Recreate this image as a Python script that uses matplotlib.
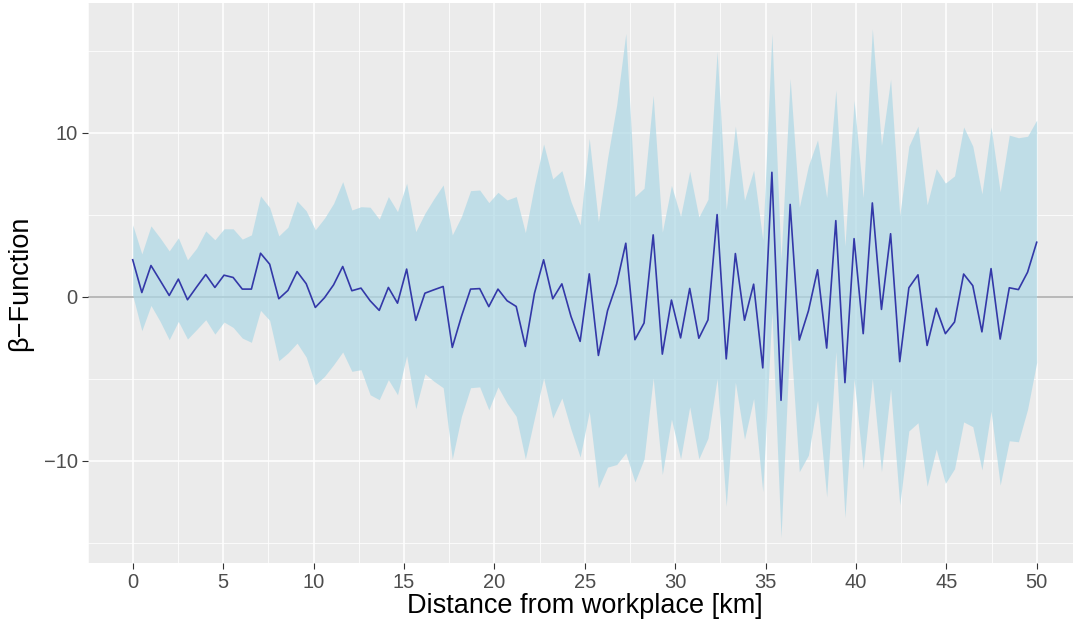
import numpy as np
import matplotlib
matplotlib.use('Agg')
import matplotlib.pyplot as plt

plt.rcParams['font.family'] = ['Liberation Sans', 'DejaVu Sans']

# distance grid: 100 points from 0 to 50 km
dist = np.linspace(0, 50, 100)

beta = [2.26, 0.26, 1.91, 1.0, 0.08, 1.08, -0.18, 0.6, 1.36, 0.57,
        1.32, 1.18, 0.47, 0.47, 2.66, 1.99, -0.12, 0.39, 1.54, 0.8,
        -0.65, -0.06, 0.73, 1.85, 0.37, 0.53, -0.24, -0.83, 0.57, -0.39,
        1.69, -1.44, 0.22, 0.43, 0.63, -3.09, -1.2, 0.47, 0.5, -0.6,
        0.47, -0.24, -0.59, -3.03, 0.22, 2.26, -0.12, 0.79, -1.2, -2.72,
        1.4, -3.58, -0.85, 0.79, 3.27, -2.62, -1.6, 3.78, -3.5, -0.2,
        -2.51, 0.51, -2.53, -1.41, 5.02, -3.79, 2.64, -1.43, 0.77, -4.34,
        7.6, -6.32, 5.64, -2.64, -0.86, 1.65, -3.13, 4.65, -5.24, 3.55,
        -2.25, 5.73, -0.77, 3.85, -3.96, 0.55, 1.34, -2.97, -0.7, -2.25,
        -1.54, 1.39, 0.68, -2.14, 1.72, -2.58, 0.55, 0.44, 1.5, 3.33]

upper = [4.39, 2.62, 4.33, 3.6, 2.8, 3.6, 2.26, 2.97, 4.02, 3.48,
         4.15, 4.15, 3.52, 3.78, 6.16, 5.45, 3.72, 4.25, 5.85, 5.25,
         4.09, 4.8, 5.7, 7.03, 5.3, 5.5, 5.47, 4.74, 6.12, 5.2,
         6.93, 3.98, 5.1, 6.0, 6.83, 3.78, 4.9, 6.48, 6.52, 5.75,
         6.38, 5.91, 6.12, 3.92, 6.83, 9.33, 7.2, 7.7, 5.81, 4.39,
         9.67, 4.59, 8.46, 11.7, 16.08, 6.12, 6.63, 12.3, 3.95, 6.8,
         4.91, 7.67, 4.87, 5.95, 14.98, 5.31, 10.42, 5.9, 7.73, 3.48,
         16.08, 2.27, 13.33, 5.46, 8.0, 9.58, 6.06, 12.62, 3.1, 12.0,
         6.06, 16.37, 9.25, 13.28, 4.96, 9.2, 10.42, 5.62, 7.82, 6.94,
         7.38, 10.37, 9.2, 6.28, 10.37, 6.41, 9.87, 9.71, 9.8, 10.79]

lower = [0.1, -2.07, -0.53, -1.5, -2.62, -1.5, -2.58, -2.0, -1.4, -2.28,
         -1.54, -1.87, -2.52, -2.78, -0.83, -1.44, -3.9, -3.43, -2.83, -3.68,
         -5.37, -4.86, -4.15, -3.37, -4.55, -4.45, -5.98, -6.28, -5.06, -5.98,
         -3.6, -6.83, -4.7, -5.16, -5.55, -9.9, -7.3, -5.55, -5.5, -6.9,
         -5.5, -6.5, -7.3, -9.9, -7.4, -4.96, -7.4, -6.18, -8.1, -9.78,
         -7.0, -11.67, -10.4, -10.24, -9.53, -11.3, -9.9, -4.96, -10.85, -7.47,
         -9.89, -6.72, -9.89, -8.63, -5.0, -12.78, -5.22, -8.7, -6.21, -11.9,
         -0.93, -14.7, -2.18, -10.68, -9.67, -6.32, -12.22, -3.35, -13.48, -5.0,
         -10.5, -5.0, -10.68, -5.62, -12.7, -8.19, -7.69, -11.56, -9.3, -11.39,
         -10.5, -7.64, -7.93, -10.57, -6.98, -11.5, -8.79, -8.85, -6.87, -4.0]

x_ticks = [0, 5, 10, 15, 20, 25, 30, 35, 40, 45, 50]
y_ticks = [-10, 0, 10]

fig = plt.figure(figsize=(10.73, 6.19), dpi=100)
# panel runs past the right edge of the canvas
ax = fig.add_axes([87.5 / 1073, 0.0905, 994.4 / 1073, 0.9045])
ax.set_facecolor('#ebebeb')

# ggplot-like grid
for v in np.arange(-15, 20, 5):
    lw = 1.1 if v % 10 == 0 else 0.55
    ax.axhline(v, color='white', lw=lw, zorder=0)
for v in np.arange(-2.5, 55, 2.5):
    lw = 1.1 if v % 5 == 0 else 0.55
    ax.axvline(v, color='white', lw=lw, zorder=0)

ax.axhline(0, color='#b3b3b3', lw=1.3, zorder=1)
ax.fill_between(dist, lower, upper, color='#add8e6', alpha=0.7, lw=0, zorder=2)
ax.plot(dist, beta, color='#3338a8', lw=1.2, zorder=3)

ax.set_xlim(-2.5, 52.5)
ax.set_ylim(-16.25, 17.93)
ax.set_xticks(x_ticks)
ax.set_yticks(y_ticks)
ax.set_yticklabels([str(t).replace('-', '\u2212') for t in y_ticks])
ax.tick_params(axis='both', colors='#333333', length=4, width=0.8,
               labelsize=14.5, labelcolor='#4d4d4d', pad=3)
for s in ax.spines.values():
    s.set_visible(False)

ax.set_xlabel('Distance from workplace [km]', fontsize=19.5, color='black', labelpad=1)
ax.set_ylabel('\u03b2\u2212Function', fontsize=19.5, color='black', labelpad=8)

fig.savefig('out.png', dpi=100)
